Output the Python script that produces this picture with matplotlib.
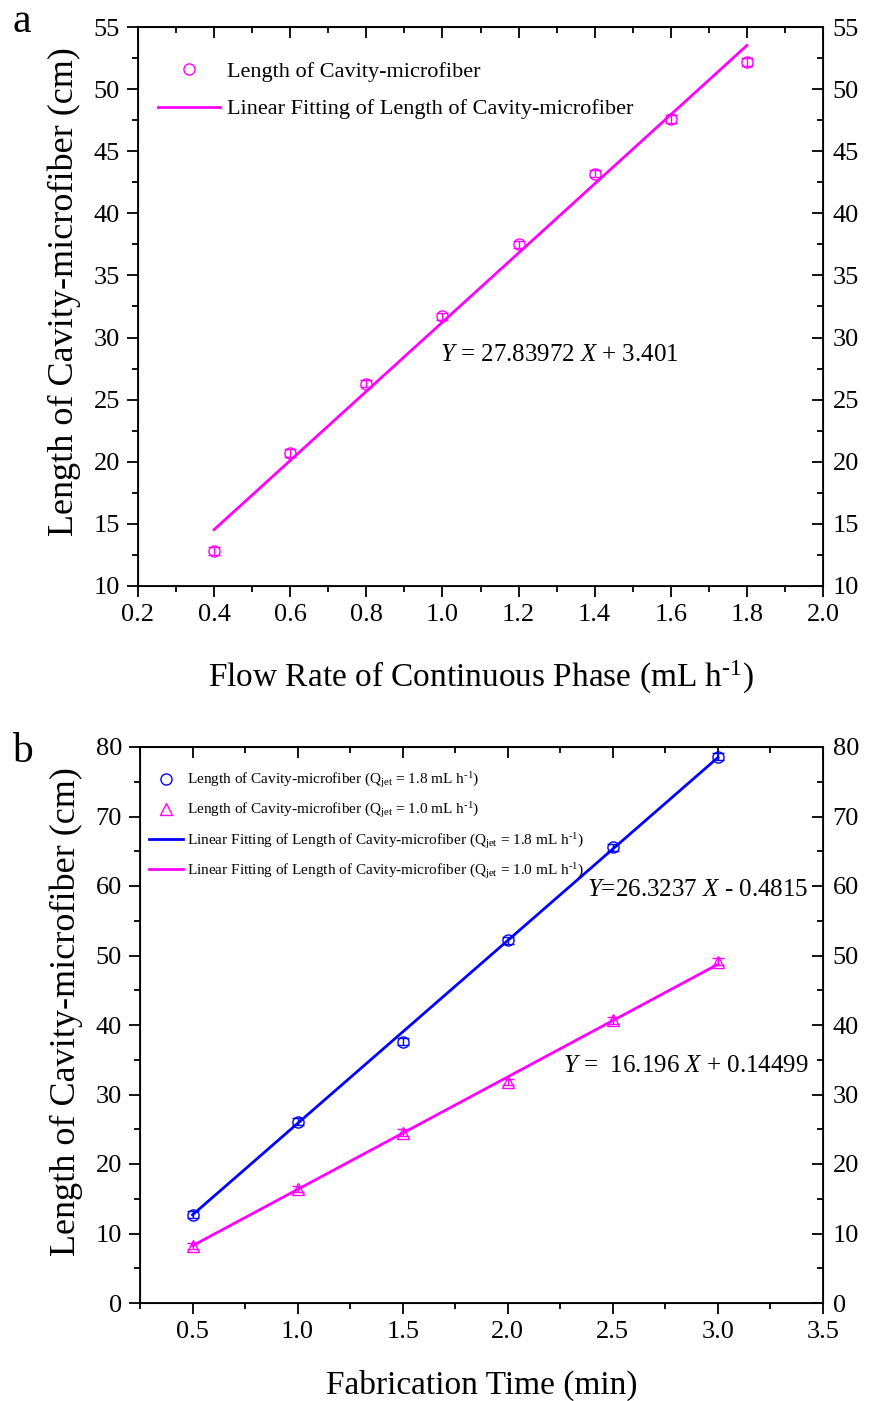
"""Cavity-microfiber length vs flow rate and fabrication time"""

import numpy as np
import matplotlib
matplotlib.use("Agg")
import matplotlib.pyplot as plt
from matplotlib.ticker import MultipleLocator
from matplotlib.lines import Line2D

plt.rcParams["font.family"] = ["Liberation Serif", "DejaVu Serif"]
plt.rcParams["mathtext.fontset"] = "custom"
plt.rcParams["mathtext.rm"] = "Liberation Serif"
plt.rcParams["mathtext.it"] = "Liberation Serif:italic"

# panel a data
flow_rate = [0.4, 0.6, 0.8, 1.0, 1.2, 1.4, 1.6, 1.8]
length_a = [12.8, 20.7, 26.3, 31.7, 37.5, 43.2, 47.6, 52.2]
err_a = [0.3, 0.3, 0.3, 0.3, 0.3, 0.3, 0.3, 0.3]
slope_a, icpt_a = 27.83972, 3.401

# panel b data
fab_time = [0.5, 1.0, 1.5, 2.0, 2.5, 3.0]
length_18 = [12.7, 26.1, 37.6, 52.2, 65.6, 78.6]
length_10 = [8.2, 16.4, 24.5, 31.8, 40.7, 49.1]
err_b = [0.5, 0.5, 0.5, 0.5, 0.5, 0.5]
slope_18, icpt_18 = 26.3237, -0.4815
slope_10, icpt_10 = 16.196, 0.14499

MAG = "#ff00ff"
BLUE = "#0000ff"
TICK_FS = 19

fig = plt.figure(figsize=(8.73, 14.01), dpi=100)
W, H = 873, 1401


def px_axes(l, t, r, b):
    return fig.add_axes([l / W, 1 - b / H, (r - l) / W, (b - t) / H])


def style_axes(ax):
    ax.tick_params(which="both", direction="out", labelsize=TICK_FS, width=1.3,
                   top=False, right=False, pad=5)
    ax.tick_params(which="major", length=8)
    ax.tick_params(which="minor", length=4.5)
    for s in ax.spines.values():
        s.set_linewidth(1.3)
    # mirrored right axis with labels, inward ticks
    ax2 = ax.twinx()
    ax2.set_ylim(ax.get_ylim())
    ax2.yaxis.set_major_locator(ax.yaxis.get_major_locator())
    ax2.yaxis.set_minor_locator(ax.yaxis.get_minor_locator())
    ax2.tick_params(which="both", direction="in", labelsize=TICK_FS, width=1.3, pad=7)
    ax2.tick_params(which="major", length=8)
    ax2.tick_params(which="minor", length=4.5)
    # top ticks inward, no labels
    ax3 = ax.secondary_xaxis("top")
    ax3.xaxis.set_major_locator(ax.xaxis.get_major_locator())
    ax3.xaxis.set_minor_locator(ax.xaxis.get_minor_locator())
    ax3.tick_params(which="both", direction="in", labeltop=False, width=1.3)
    ax3.tick_params(which="major", length=8)
    ax3.tick_params(which="minor", length=4.5)
    ax3.spines["top"].set_linewidth(1.3)


# "h^-1" with a plain hyphen instead of a math minus
H_M1 = "h$^{\\rm \u2010" + "1}$"

# ---- panel a ----
ax = px_axes(138, 27, 823, 586)
ax.set_xlim(0.2, 2.0)
ax.set_ylim(10, 55)
ax.xaxis.set_major_locator(MultipleLocator(0.2))
ax.xaxis.set_minor_locator(MultipleLocator(0.1))
ax.yaxis.set_major_locator(MultipleLocator(5))
ax.yaxis.set_minor_locator(MultipleLocator(2.5))
ax.xaxis.set_major_formatter(plt.FuncFormatter(lambda v, p: f"{v:.1f}"))

ax.errorbar(flow_rate, length_a, yerr=err_a, fmt="o", mfc="none", mec=MAG,
            ms=8, mew=1.0, ecolor=MAG, elinewidth=1.0, capsize=4, capthick=1.0)
xf = np.array([flow_rate[0], flow_rate[-1]])
ax.plot(xf, slope_a * xf + icpt_a, color=MAG, lw=2)
ax.text(0.994, 28.6, r"$\mathit{Y}$ = 27.83972 $\mathit{X}$ + 3.401",
        fontsize=18, ha="left", va="center")
hand_a = [Line2D([], [], ls="none", marker="o", mfc="none", mec=MAG, ms=8),
          Line2D([], [], color=MAG, lw=2)]
ax.legend(hand_a, ["Length of Cavity-microfiber",
                   "Linear Fitting of Length of Cavity-microfiber"],
          loc="upper left", frameon=False, fontsize=16, handlelength=2.8,
          handletextpad=0.3, bbox_to_anchor=(0.0, 0.975), borderaxespad=0.5,
          labelspacing=0.78)
ax.set_ylabel("Length of Cavity-microfiber (cm)", fontsize=26)
ax.yaxis.set_label_coords(-0.083, 0.526)
ax.set_xlabel("Flow Rate of Continuous Phase (mL " + H_M1 + ")",
              fontsize=24, labelpad=24)
style_axes(ax)
fig.text(12 / W, 1 - 22 / H, "a", fontsize=30, va="center", ha="left")

# ---- panel b ----
bx = px_axes(140, 747, 823, 1303)
bx.set_xlim(0.25, 3.5)
bx.set_ylim(0, 80)
bx.xaxis.set_major_locator(MultipleLocator(0.5))
bx.xaxis.set_minor_locator(MultipleLocator(0.25))
bx.yaxis.set_major_locator(MultipleLocator(10))
bx.yaxis.set_minor_locator(MultipleLocator(5))
bx.xaxis.set_major_formatter(plt.FuncFormatter(lambda v, p: f"{v:.1f}"))

q18 = r"(Q$_{\rm jet}$ = 1.8 mL " + H_M1 + ")"
q10 = r"(Q$_{\rm jet}$ = 1.0 mL " + H_M1 + ")"
bx.errorbar(fab_time, length_18, yerr=err_b, fmt="o", mfc="none", mec=BLUE,
            ms=8, mew=1.0, ecolor=BLUE, elinewidth=1.0, capsize=4, capthick=1.0)
bx.errorbar(fab_time, length_10, yerr=err_b, fmt="^", mfc="none", mec=MAG,
            ms=9, mew=1.0, ecolor=MAG, elinewidth=1.0, capsize=4, capthick=1.0)
xt = np.array([fab_time[0], fab_time[-1]])
bx.plot(xt, slope_18 * xt + icpt_18, color=BLUE, lw=2)
bx.plot(xt, slope_10 * xt + icpt_10, color=MAG, lw=2)
bx.text(3.43, 59.4, r"$\mathit{Y}$=26.3237 $\mathit{X}$ - 0.4815",
        fontsize=18, ha="right", va="center")
bx.text(3.43, 34.1, r"$\mathit{Y}$ =  16.196 $\mathit{X}$ + 0.14499",
        fontsize=18, ha="right", va="center")
hand_b = [Line2D([], [], ls="none", marker="o", mfc="none", mec=BLUE, ms=8),
          Line2D([], [], ls="none", marker="^", mfc="none", mec=MAG, ms=9),
          Line2D([], [], color=BLUE, lw=2),
          Line2D([], [], color=MAG, lw=2)]
bx.legend(hand_b, ["Length of Cavity-microfiber " + q18,
                   "Length of Cavity-microfiber " + q10,
                   "Linear Fitting of Length of Cavity-microfiber " + q18,
                   "Linear Fitting of Length of Cavity-microfiber " + q10],
          loc="upper left", frameon=False, fontsize=11, handlelength=2.2,
          bbox_to_anchor=(0.0, 0.975), borderaxespad=0.2, labelspacing=0.68,
          handletextpad=0.3)
bx.set_ylabel("Length of Cavity-microfiber (cm)", fontsize=26)
bx.yaxis.set_label_coords(-0.084, 0.525)
bx.set_xlabel("Fabrication Time (min)", fontsize=24, labelpad=19)
style_axes(bx)
fig.text(12 / W, 1 - 752 / H, "b", fontsize=30, va="center", ha="left")

fig.savefig("out.png", dpi=100)
